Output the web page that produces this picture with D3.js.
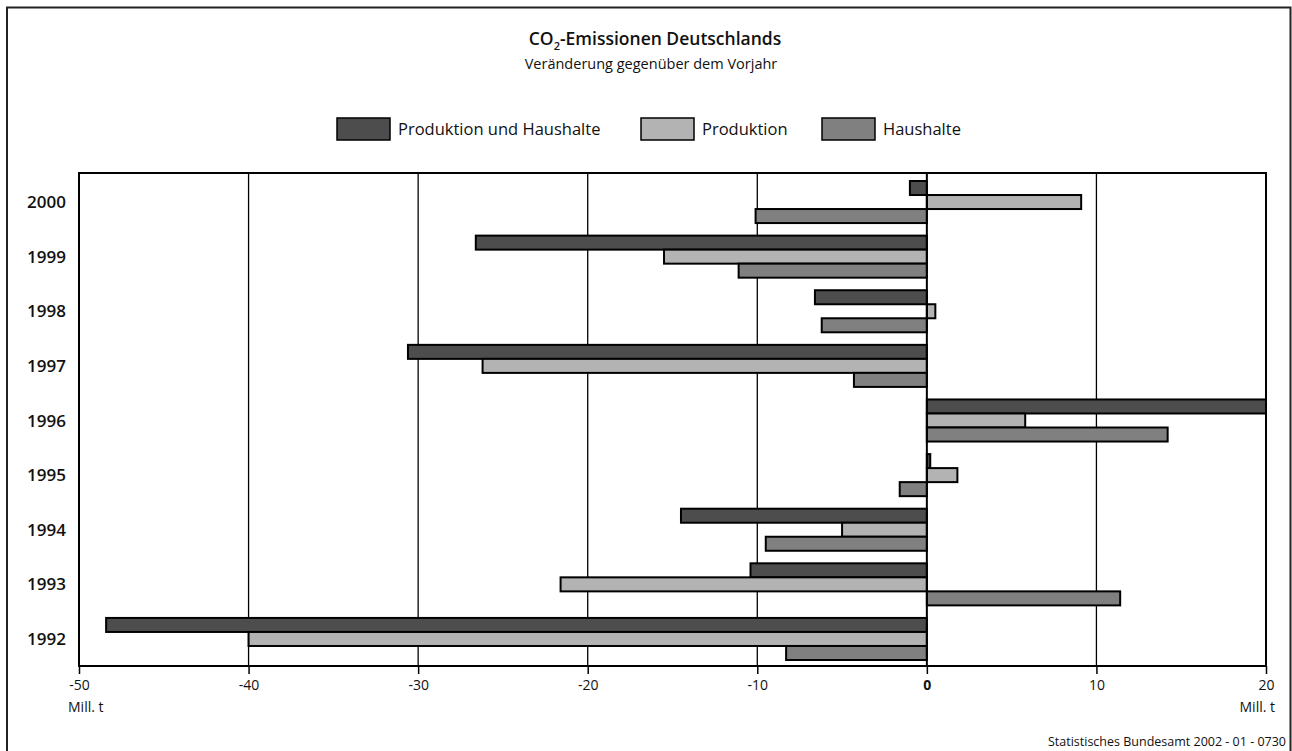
<!DOCTYPE html>
<html>
<head>
<meta charset="utf-8">
<script src="https://cdn.jsdelivr.net/npm/d3@7"></script>
<style>
  html, body { margin: 0; padding: 0; background: #fff; }
  svg { display: block; font-family: "Open Sans", "Noto Sans", sans-serif; }
</style>
</head>
<body>
<svg id="chart" width="1292" height="751"></svg>
<script>
// Jahre (von oben nach unten) und Veränderungen in Mill. t
const years = ["2000", "1999", "1998", "1997", "1996", "1995", "1994", "1993", "1992"];
const seriesNames = ["Produktion und Haushalte", "Produktion", "Haushalte"];
const seriesColors = ["#4d4d4d", "#b3b3b3", "#808080"];
const produktionUndHaushalte = [-1.0, -26.6, -6.6, -30.6, 20.0, 0.2, -14.5, -10.4, -48.4];
const produktion = [9.1, -15.5, 0.5, -26.2, 5.8, 1.8, -5.0, -21.6, -40.0];
const haushalte = [-10.1, -11.1, -6.2, -4.3, 14.2, -1.6, -9.5, 11.4, -8.3];
const xTicks = [-50, -40, -30, -20, -10, 0, 10, 20];

const seriesValues = [produktionUndHaushalte, produktion, haushalte];

const svg = d3.select("#chart");

// Rahmen
svg.append("path")
  .attr("d", "M7,760 V7.5 H1290.5 V760")
  .attr("fill", "none").attr("stroke", "#222").attr("stroke-width", 2);

// Titel
const title = svg.append("text")
  .attr("x", 655).attr("y", 45).attr("text-anchor", "middle")
  .attr("font-size", 17.5).attr("font-weight", 600).attr("fill", "#111");
title.append("tspan").text("CO");
title.append("tspan").attr("font-size", 11).attr("dy", 5).text("2");
title.append("tspan").attr("dy", -5).text("-Emissionen Deutschlands");

svg.append("text")
  .attr("x", 651).attr("y", 69).attr("text-anchor", "middle")
  .attr("font-size", 14.5).attr("fill", "#111")
  .text("Veränderung gegenüber dem Vorjahr");

// Legende
const legendX = [337, 641, 822];
const legend = svg.append("g").selectAll("g")
  .data(seriesNames).join("g")
  .attr("transform", (d, i) => `translate(${legendX[i]},118)`);
legend.append("rect")
  .attr("width", 53).attr("height", 22)
  .attr("fill", (d, i) => seriesColors[i])
  .attr("stroke", "#000").attr("stroke-width", 1.5);
legend.append("text")
  .attr("x", 61).attr("y", 17)
  .attr("font-size", 16.5).attr("fill", "#111")
  .text(d => d);

// Diagrammbereich
const plot = { left: 79, right: 1266, top: 173, bottom: 666 };

const x = d3.scaleLinear().domain([-50, 20]).range([plot.left, plot.right]);
const y = d3.scaleBand().domain(years).range([181, 660]).paddingInner(0.23).paddingOuter(0);
const ySub = d3.scaleBand().domain(d3.range(3)).range([0, y.bandwidth()]);

const g = svg.append("g");

// Gitterlinien
g.append("g").selectAll("line")
  .data(xTicks.filter(t => t !== 0))
  .join("line")
  .attr("x1", d => x(d)).attr("x2", d => x(d))
  .attr("y1", plot.top).attr("y2", plot.bottom)
  .attr("stroke", "#000").attr("stroke-width", 1.3);

// Rahmen des Diagrammbereichs
g.append("rect")
  .attr("x", plot.left).attr("y", plot.top)
  .attr("width", plot.right - plot.left).attr("height", plot.bottom - plot.top)
  .attr("fill", "none").attr("stroke", "#000").attr("stroke-width", 2);

// Balken
const barData = [];
years.forEach((yr, i) => {
  seriesValues.forEach((vals, s) => {
    barData.push({ year: yr, series: s, value: vals[i] });
  });
});

g.append("g").selectAll("rect")
  .data(barData)
  .join("rect")
  .attr("x", d => x(Math.min(0, d.value)))
  .attr("width", d => Math.abs(x(d.value) - x(0)))
  .attr("y", d => y(d.year) + ySub(d.series))
  .attr("height", ySub.bandwidth())
  .attr("fill", d => seriesColors[d.series])
  .attr("stroke", "#000").attr("stroke-width", 2);

// Nulllinie
g.append("line")
  .attr("x1", x(0)).attr("x2", x(0))
  .attr("y1", plot.top).attr("y2", plot.bottom)
  .attr("stroke", "#000").attr("stroke-width", 2);

// x-Achse
const xAxis = g.append("g")
  .attr("transform", `translate(0,${plot.bottom})`)
  .call(d3.axisBottom(x).tickValues(xTicks).tickSize(8).tickPadding(6).tickFormat(d3.format("d")));
xAxis.select(".domain").remove();
xAxis.selectAll(".tick line").attr("stroke", "#000").attr("stroke-width", 1.5);
xAxis.selectAll(".tick text")
  .attr("font-size", 14).attr("fill", "#111")
  .attr("font-family", "\"Open Sans\", \"Noto Sans\", sans-serif")
  .attr("font-weight", d => d === 0 ? "bold" : "normal")
  .text(d => d < 0 ? "-" + Math.abs(d) : String(d));

// Einheiten
svg.append("text").attr("x", 68).attr("y", 712)
  .attr("font-size", 14).attr("fill", "#111").text("Mill. t");
svg.append("text").attr("x", 1275).attr("y", 712).attr("text-anchor", "end")
  .attr("font-size", 14).attr("fill", "#111").text("Mill. t");

// y-Achse (Jahre)
g.append("g").selectAll("text")
  .data(years).join("text")
  .attr("x", 66)
  .attr("y", d => y(d) + y.bandwidth() / 2)
  .attr("dy", "0.36em")
  .attr("text-anchor", "end")
  .attr("font-size", 17).attr("font-weight", 600).attr("fill", "#111")
  .text(d => d);

// Quelle
svg.append("text").attr("x", 1286).attr("y", 746).attr("text-anchor", "end")
  .attr("font-size", 12.5).attr("fill", "#111")
  .text("Statistisches Bundesamt 2002 - 01 - 0730");
</script>
</body>
</html>
